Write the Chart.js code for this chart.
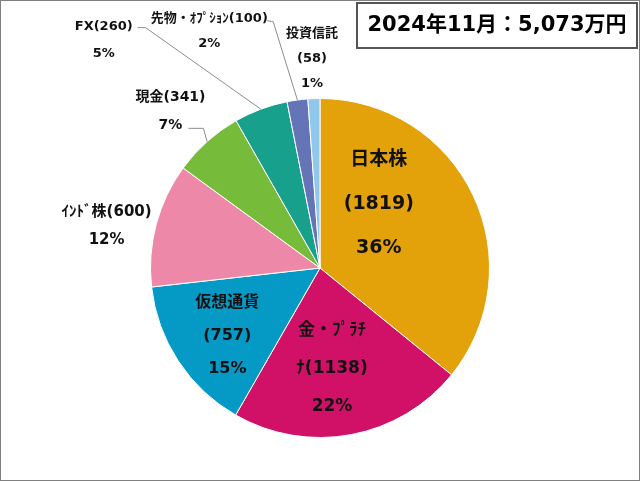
<!DOCTYPE html>
<html>
<head>
<meta charset="utf-8">
<script src="https://cdn.jsdelivr.net/npm/chart.js@4.4.1/dist/chart.umd.min.js"></script>
<style>
  html, body { margin: 0; padding: 0; background: #fff; }
  canvas { display: block; }
</style>
</head>
<body>
<canvas id="pieChart" width="640" height="481"></canvas>
<script>
// data
const title = '2024年11月：5,073万円';
const categories = ['日本株', '金・ﾌﾟﾗﾁﾅ', '仮想通貨', 'ｲﾝﾄﾞ株', '現金', 'FX', '先物・ｵﾌﾟｼｮﾝ', '投資信託'];
const values = [1819, 1138, 757, 600, 341, 260, 100, 58];
const colors = ['#E3A10A', '#D11168', '#0599C6', '#EE88A8', '#76BB3A', '#17A08C', '#6474B6', '#8FC8EA'];

const FONT = "'DejaVu Sans', 'Noto Sans CJK JP', sans-serif";

// label placement, in units of the pie radius from its centre
const labelLayout = [
    { mode: 'stack', ox: 0.347, oy: -0.376, size: 19, gap: 44 },
    { mode: 'break', breakAt: 6, ox: 0.071, oy: 0.594, size: 17, gap: 38 },
    { mode: 'stack', ox: -0.547, oy: 0.40, size: 16, gap: 33 },
    { mode: 'inline', ox: -1.259, oy: -0.247, size: 15, gap: 28 },
    { mode: 'inline', ox: -0.882, oy: -0.924, size: 14, gap: 28, line: [[-0.776, -0.824], [-0.688, -0.824]] },
    { mode: 'inline', ox: -1.276, oy: -1.344, size: 13, gap: 27, line: [[-1.076, -1.418], [-1.029, -1.418]] },
    { mode: 'inline', ox: -0.653, oy: -1.397, size: 13, gap: 25, line: [[-0.312, -1.459], [-0.276, -1.453]] },
    { mode: 'stack', ox: -0.047, oy: -1.235, size: 13, gap: 25 }
];

const total = values.reduce((a, b) => a + b, 0);

function labelLines(i) {
    const name = categories[i];
    const v = values[i];
    const pct = Math.round(v / total * 100) + '%';
    const lay = labelLayout[i];
    if (lay.mode === 'stack') return [name, '(' + v + ')', pct];
    if (lay.mode === 'break') {
        const t = name + '(' + v + ')';
        return [t.slice(0, lay.breakAt), t.slice(lay.breakAt), pct];
    }
    return [name + '(' + v + ')', pct];
}

const pieLabels = {
    id: 'pieLabels',
    afterDatasetsDraw(chart) {
        const ctx = chart.ctx;
        const arcs = chart.getDatasetMeta(0).data;
        ctx.save();
        arcs.forEach((arc, i) => {
            const lay = labelLayout[i];
            const r = arc.outerRadius;
            const cx = arc.x, cy = arc.y;
            // leader line
            if (lay.line) {
                const mid = (arc.startAngle + arc.endAngle) / 2;
                ctx.strokeStyle = '#8c8c8c';
                ctx.lineWidth = 1;
                ctx.beginPath();
                ctx.moveTo(cx + lay.line[0][0] * r, cy + lay.line[0][1] * r);
                ctx.lineTo(cx + lay.line[1][0] * r, cy + lay.line[1][1] * r);
                ctx.lineTo(cx + Math.cos(mid) * r, cy + Math.sin(mid) * r);
                ctx.stroke();
            }
            const lines = labelLines(i);
            const bx = cx + lay.ox * r;
            const by = cy + lay.oy * r;
            ctx.fillStyle = '#111';
            ctx.font = 'bold ' + lay.size + 'px ' + FONT;
            ctx.textAlign = 'center';
            ctx.textBaseline = 'middle';
            lines.forEach((t, k) => {
                ctx.fillText(t, bx, by + (k - (lines.length - 1) / 2) * lay.gap);
            });
        });
        ctx.restore();
    },
    afterDraw(chart) {
        const ctx = chart.ctx;
        ctx.save();
        // outer frame
        ctx.strokeStyle = '#808080';
        ctx.lineWidth = 1;
        ctx.strokeRect(0.5, 0.5, chart.width - 1, chart.height - 1);
        // title box
        ctx.fillStyle = '#fff';
        ctx.fillRect(357, 3, 280, 45);
        ctx.strokeStyle = '#555';
        ctx.lineWidth = 2;
        ctx.strokeRect(357, 3, 280, 45);
        ctx.fillStyle = '#000';
        ctx.font = 'bold 21px ' + FONT;
        ctx.textAlign = 'center';
        ctx.textBaseline = 'middle';
        ctx.fillText(title, 497, 26);
        ctx.restore();
    }
};

const ctx = document.getElementById('pieChart').getContext('2d');
const chart = new Chart(ctx, {
    type: 'pie',
    data: {
        labels: categories,
        datasets: [{
            data: values,
            backgroundColor: colors,
            borderColor: '#ffffff',
            borderWidth: 1
        }]
    },
    options: {
        responsive: false,
        animation: false,
        layout: {
            padding: { top: 98, bottom: 43, left: 0, right: 0 }
        },
        plugins: {
            legend: { display: false },
            tooltip: { enabled: false },
            title: { display: false }
        }
    },
    plugins: [pieLabels]
});
</script>
</body>
</html>
